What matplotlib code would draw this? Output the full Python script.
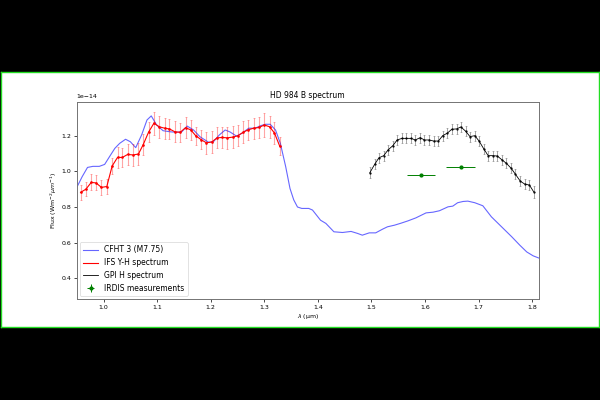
import numpy as np
import matplotlib
matplotlib.use('agg')
import matplotlib.pyplot as plt

# flux values are in units of 1e-14 W m-2 um-1
unit = 1e-14

# CFHT template (M7.75)
cfht_wl = [0.950, 0.960, 0.970, 0.980, 0.992, 1.002, 1.011, 1.021, 1.030, 1.041,
           1.050, 1.060, 1.071, 1.081, 1.089, 1.099, 1.111, 1.124, 1.136, 1.146,
           1.156, 1.168, 1.180, 1.196, 1.205, 1.216, 1.227, 1.236, 1.248, 1.258,
           1.271, 1.283, 1.293, 1.302, 1.311, 1.321, 1.330, 1.340, 1.348, 1.355,
           1.362, 1.370, 1.383, 1.390, 1.405, 1.415, 1.430, 1.446, 1.462, 1.474,
           1.483, 1.496, 1.508, 1.521, 1.530, 1.543, 1.555, 1.568, 1.583, 1.602,
           1.615, 1.627, 1.643, 1.652, 1.661, 1.671, 1.680, 1.693, 1.708, 1.724,
           1.743, 1.762, 1.777, 1.790, 1.802, 1.815]
cfht_flux = [0.910, 0.970, 1.022, 1.028, 1.028, 1.039, 1.082, 1.129, 1.157, 1.180,
             1.166, 1.133, 1.204, 1.288, 1.311, 1.260, 1.228, 1.222, 1.219, 1.222,
             1.254, 1.232, 1.194, 1.163, 1.166, 1.204, 1.232, 1.221, 1.198, 1.213,
             1.242, 1.242, 1.256, 1.264, 1.264, 1.232, 1.157, 1.026, 0.904, 0.840,
             0.800, 0.792, 0.792, 0.783, 0.726, 0.708, 0.661, 0.657, 0.663, 0.652,
             0.642, 0.655, 0.655, 0.676, 0.689, 0.698, 0.709, 0.722, 0.739, 0.767,
             0.771, 0.779, 0.801, 0.805, 0.824, 0.831, 0.833, 0.824, 0.807, 0.745,
             0.689, 0.633, 0.586, 0.548, 0.526, 0.511]

# SPHERE IFS spectrum
ifs_wl = [0.957, 0.967, 0.977, 0.986, 0.996, 1.006, 1.016, 1.026, 1.035, 1.045,
          1.055, 1.065, 1.074, 1.084, 1.094, 1.104, 1.114, 1.123, 1.133, 1.143,
          1.153, 1.163, 1.172, 1.182, 1.192, 1.202, 1.212, 1.221, 1.231, 1.241,
          1.251, 1.261, 1.270, 1.280, 1.290, 1.300, 1.310, 1.319, 1.329]
ifs_flux = [0.882, 0.900, 0.938, 0.935, 0.910, 0.915, 1.030, 1.078, 1.078, 1.095,
            1.092, 1.097, 1.150, 1.220, 1.270, 1.250, 1.242, 1.238, 1.222, 1.219,
            1.245, 1.232, 1.200, 1.178, 1.160, 1.165, 1.188, 1.190, 1.188, 1.192,
            1.200, 1.220, 1.233, 1.242, 1.246, 1.260, 1.250, 1.215, 1.140]
ifs_err = [0.040, 0.040, 0.045, 0.042, 0.040, 0.040, 0.045, 0.060, 0.055, 0.058,
           0.060, 0.062, 0.060, 0.058, 0.065, 0.062, 0.060, 0.055, 0.058, 0.055,
           0.060, 0.058, 0.050, 0.055, 0.062, 0.060, 0.058, 0.060, 0.062, 0.060,
           0.058, 0.060, 0.055, 0.058, 0.060, 0.065, 0.062, 0.060, 0.050]

# GPI H spectrum
gpi_wl = [1.497, 1.506, 1.514, 1.523, 1.531, 1.540, 1.548, 1.557, 1.565, 1.574,
          1.582, 1.591, 1.599, 1.608, 1.616, 1.625, 1.633, 1.642, 1.650, 1.659,
          1.667, 1.676, 1.684, 1.693, 1.701, 1.710, 1.718, 1.727, 1.735, 1.744,
          1.752, 1.761, 1.769, 1.778, 1.786, 1.795, 1.803]
gpi_flux = [0.992, 1.039, 1.076, 1.088, 1.120, 1.144, 1.176, 1.185, 1.185, 1.185,
            1.176, 1.189, 1.176, 1.176, 1.170, 1.170, 1.200, 1.215, 1.236, 1.238,
            1.249, 1.225, 1.195, 1.200, 1.170, 1.125, 1.088, 1.088, 1.086, 1.064,
            1.045, 1.017, 0.983, 0.945, 0.929, 0.923, 0.885]
gpi_err = [0.030, 0.028, 0.028, 0.028, 0.028, 0.028, 0.028, 0.028, 0.028, 0.028,
           0.028, 0.028, 0.028, 0.028, 0.028, 0.028, 0.028, 0.028, 0.028, 0.028,
           0.028, 0.028, 0.028, 0.028, 0.028, 0.028, 0.028, 0.028, 0.028, 0.028,
           0.028, 0.028, 0.028, 0.028, 0.028, 0.028, 0.035]

# IRDIS H2/H3 photometry
irdis_wl = [1.593, 1.667]
irdis_flux = [0.979, 1.022]
irdis_wl_err = [0.026, 0.027]
irdis_err = [0.004, 0.004]

fig = plt.figure(figsize=(6, 4), dpi=100, facecolor='black')

# white panel with green border
bg = fig.add_axes([0.002, 0.1825, 0.996, 0.6375])
bg.set_facecolor('white')
bg.set_xticks([])
bg.set_yticks([])
for s in bg.spines.values():
    s.set_color('#22dd22')
    s.set_linewidth(1)

ax = fig.add_axes([0.128, 0.2525, 0.77, 0.4925])

ax.plot(cfht_wl, np.array(cfht_flux) * unit, color='blue', alpha=0.6, lw=0.8,
        label='CFHT 3 (M7.75)')

ax.plot(ifs_wl, np.array(ifs_flux) * unit, color='red', lw=0.8, label='IFS Y-H spectrum')
ax.errorbar(ifs_wl, np.array(ifs_flux) * unit, yerr=np.array(ifs_err) * unit,
            fmt='.', color='red', ms=1.8, ecolor=(1, 0, 0, 0.35), elinewidth=0.8,
            capsize=0.7, capthick=0.6)

ax.plot(gpi_wl, np.array(gpi_flux) * unit, color='black', lw=0.6, label='GPI H spectrum')
ax.errorbar(gpi_wl, np.array(gpi_flux) * unit, yerr=np.array(gpi_err) * unit,
            fmt='.', color='black', ms=1.2, ecolor=(0, 0, 0, 0.35), elinewidth=0.7,
            capsize=0.6, capthick=0.5)

ax.errorbar(irdis_wl, np.array(irdis_flux) * unit, xerr=irdis_wl_err,
            yerr=np.array(irdis_err) * unit, fmt='o', color='green', ms=2,
            elinewidth=0.7, label='IRDIS measurements')

ax.set_xlim(0.95, 1.8125)
ax.set_ylim(0.284 * unit, 1.389 * unit)

ax.set_title('HD 984 B spectrum', fontsize=5.5, pad=3)
ax.set_xlabel(r'$\lambda$ ($\mathrm{\mu}$m)', fontsize=4.5, labelpad=2)
ax.set_ylabel(r'Flux (Wm$^{-2}\mu m^{-1}$)', fontsize=4.5, labelpad=2)
ax.tick_params(labelsize=4.5, length=2, width=0.5, pad=2)
ax.yaxis.get_offset_text().set_fontsize(4.5)
for s in ax.spines.values():
    s.set_color('0.45')
    s.set_linewidth(0.7)

leg = ax.legend(loc='lower left', fontsize=5.5, borderaxespad=0.4)
leg.get_frame().set_linewidth(0.5)

fig.savefig('out.png', dpi=100, facecolor='black')
